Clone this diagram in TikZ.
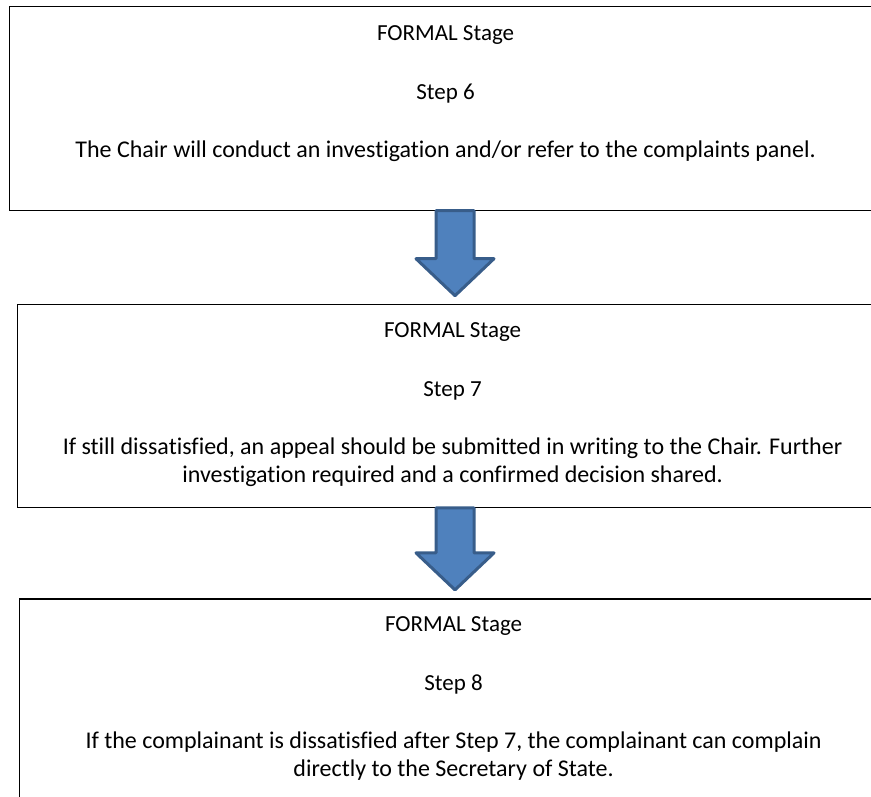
\documentclass[tikz,border=0pt]{standalone}
\usepackage{fontspec}
\setmainfont{Carlito}[Ligatures=NoCommon]
\usetikzlibrary{positioning,calc}
\definecolor{aedge}{HTML}{385D8A}
\definecolor{afill}{HTML}{4F81BD}
\newcommand{\stg}[1]{\fontsize{23pt}{28pt}\selectfont #1}

\begin{document}
\begin{tikzpicture}[x=1pt,y=1pt,
  box/.style={rectangle,draw=black,line width=1.2pt,inner sep=0pt},
  txt/.style={align=center,inner sep=0pt,font=\fontsize{24pt}{28pt}\selectfont},
  blk/.style={draw=aedge,fill=afill,line width=3pt,line join=round,
    to path={($(\tikztostart)+(-19,0.5)$) -- ($(\tikztotarget)+(-19,45.5)$)
      -- ($(\tikztotarget)+(-39,45.5)$) -- ($(\tikztotarget)+(0,8.5)$)
      -- ($(\tikztotarget)+(39,45.5)$) -- ($(\tikztotarget)+(19,45.5)$)
      -- ($(\tikztostart)+(19,0.5)$) -- cycle}}]
\useasboundingbox (0,0) rectangle (871,-797);
\clip (0,0) rectangle (871,-797);
% the three stages
\node[box,minimum width=872pt,minimum height=204pt,anchor=north west] (b1) at (9,-6) {};
\node[box,minimum width=870pt,minimum height=203pt,below right=93pt and 8pt of b1.south west] (b2) {};
\node[box,minimum width=868pt,minimum height=214pt,below right=90pt and 2pt of b2.south west] (b3) {};
\node[txt,below=19pt of b1.north] (t1) {\stg{FORMAL Stage}\\[31pt]\stg{Step 6}\\[30pt]The Chair will conduct an investigation and/or refer to the complaints panel.};
\node[txt,below=18pt of b2.north] (t2) {\stg{FORMAL Stage}\\[31pt]\stg{Step 7}\\[30pt]If still dissatisfied, an appeal should be submitted in writing to the Chair. Further\\investigation required and a confirmed decision shared.};
\node[txt,below=18pt of b3.north] (t3) {\stg{FORMAL Stage}\\[31pt]\stg{Step 8}\\[30pt]If the complainant is dissatisfied after Step 7, the complainant can complain\\directly to the Secretary of State.};
% block arrows
\coordinate (ax) at (455,0);
\draw[blk] (b1.south -| ax) to (b2.north -| ax);
\draw[blk] (b2.south -| ax) to (b3.north -| ax);
\end{tikzpicture}
\end{document}
